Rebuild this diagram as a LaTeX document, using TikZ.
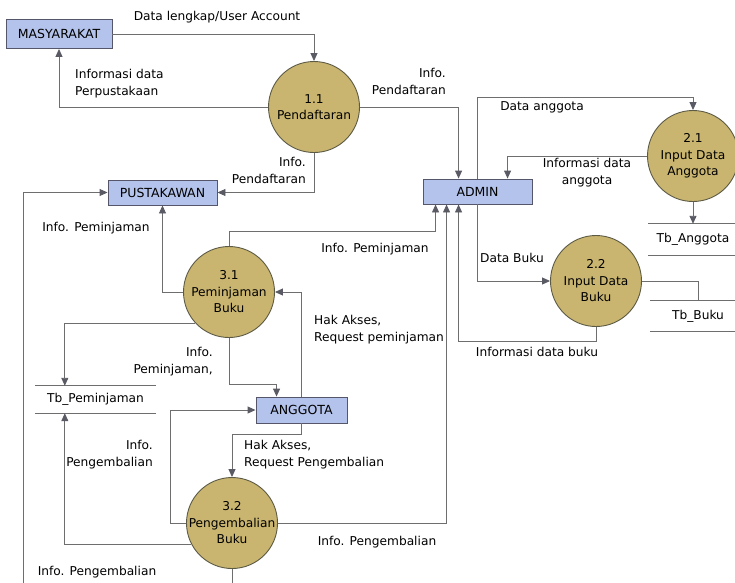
\documentclass[tikz,border=0pt]{standalone}
\usepackage{fontspec}
\setmainfont{DejaVu Sans}
\usetikzlibrary{arrows.meta,calc}
\definecolor{entfill}{HTML}{B4C3EB}
\definecolor{entdraw}{HTML}{55566A}
\definecolor{procfill}{HTML}{C9B56F}
\definecolor{procdraw}{HTML}{5C5A45}
\definecolor{linec}{HTML}{6E6E6E}
\definecolor{tipc}{HTML}{5A5A64}
\tikzset{
  ent/.style={draw=entdraw,fill=entfill,line width=0.9pt,inner sep=0pt,font=\fontsize{12.5}{17}\selectfont},
  proc/.style={circle,draw=procdraw,fill=procfill,line width=0.9pt,minimum size=91pt,inner sep=-14pt,align=center,font=\fontsize{12.2}{16.5}\selectfont},
  store/.style={inner sep=0pt,font=\fontsize{12.2}{17}\selectfont},
  lbl/.style={inner sep=0pt,font=\fontsize{12.2}{17}\selectfont},
  conn/.style={draw=linec,line width=0.9pt},
  arr/.style={conn,-{Triangle[width=7pt,length=8pt,fill=tipc,color=tipc]}},
}
\begin{document}
\begin{tikzpicture}[x=1pt,y=-1pt]
\useasboundingbox (0,0) rectangle (735,582);
% entities
\node[ent,minimum width=106pt,minimum height=29pt] (mas) at (59,34) {MASYARAKAT};
\node[ent,minimum width=109pt,minimum height=25pt] (pus) at (162.5,192.5) {PUSTAKAWAN};
\node[ent,minimum width=109pt,minimum height=25pt] (adm) at (477.5,191.5) {ADMIN};
\node[ent,minimum width=91pt,minimum height=26pt] (ang) at (301.5,410) {ANGGOTA};
% processes
\node[proc] (p11) at (314,107) {1.1\\Pendaftaran};
\node[proc] (p21) at (693,156) {2.1\\Input Data\\Anggota};
\node[proc] (p22) at (596,281) {2.2\\Input Data\\Buku};
\node[proc] (p31) at (229,292) {3.1\\Peminjaman\\Buku};
\node[proc] (p32) at (232,523) {3.2\\Pengembalian\\Buku};
% data stores
\node[store,minimum width=90pt,minimum height=31pt] (tba) at (693,239.5) {Tb\_Anggota};
\node[store,minimum width=96pt,minimum height=30pt] (tbb) at (698,316) {Tb\_Buku};
\node[store,minimum width=121pt,minimum height=27pt] (tbp) at (95.5,399.5) {Tb\_Peminjaman};
\foreach \s in {tba,tbb,tbp}{
  \draw[conn] (\s.north west) -- (\s.north east);
  \draw[conn] (\s.south west) -- (\s.south east);
}
% connectors
\draw[arr] (mas.east) -| (p11.north);
\draw[arr] (p11.west) -| (mas.south);
\draw[arr] (p11.south) |- (pus.east);
\draw[arr] (p11.east) -| ($(adm.north west)+(36,0)$);
\draw[arr] (adm.north) -- ++(0,-81) -| (p21.north);
\draw[arr] (p21.west) -| ($(adm.north west)+(85,0)$);
\draw[arr] (p21.south) -- (tba.north);
\draw[arr] (adm.south) |- (p22.west);
\draw[conn] (p22.east) -| (tbb.north);
\draw[arr] (p22.south) -- ++(0,14) -| ($(adm.south west)+(36,0)$);
\draw[arr] (p31.north) -- ++(0,-15) -| ($(adm.south west)+(13,0)$);
\draw[arr] (p32.east) -| ($(adm.south west)+(24,0)$);
\draw[arr] (p31.west) -| (pus.south);
\draw[arr] (p31.223) -| ($(tbp.north west)+(30,0)$);
\draw[arr] (p31.south) -- ++(0,46) -| ($(ang.north west)+(21,0)$);
\draw[arr] (ang.north) |- (p31.east);
\draw[arr] (ang.south) -- ++(0,11) -| (p32.north);
\draw[arr] (p32.west) -- ++(-16,0) |- (ang.west);
\draw[arr] (p32.208) -| ($(tbp.south west)+(30,0)$);
\coordinate (below) at (23,600);
\draw[arr] (p32.south) |- (below) |- (pus.west);
% labels
\node[lbl] (l1) at (217,17) {Data lengkap/User Account};
\node[lbl,anchor=west,align=left] (l2) at (75,84) {Informasi data\\Perpustakaan};
\node[lbl,anchor=east,align=right] (l3) at (306,170) {Info.\\Pendaftaran};
\node[lbl,anchor=east,align=right] (l4) at (446,81) {Info.\\Pendaftaran};
\node[lbl] (l5) at (542,107) {Data anggota};
\node[lbl,align=center] (l6) at (587,173) {Informasi data\\anggota};
\node[lbl] (l7) at (512,258) {Data Buku};
\node[lbl] (l8) at (537,352) {Informasi data buku};
\node[lbl] (l9) at (96,228) {Info. Peminjaman};
\node[lbl] (l10) at (375,249) {Info. Peminjaman};
\node[lbl,anchor=west,align=left] (l11) at (314,330) {Hak Akses,\\Request peminjaman};
\node[lbl,anchor=east,align=right] (l12) at (213,362) {Info.\\Peminjaman,};
\node[lbl,anchor=east,align=right] (l13) at (153,455) {Info.\\Pengembalian};
\node[lbl,anchor=west,align=left] (l14) at (244,455) {Hak Akses,\\Request Pengembalian};
\node[lbl] (l15) at (377,542) {Info. Pengembalian};
\node[lbl] (l16) at (97,572) {Info. Pengembalian};
\end{tikzpicture}
\end{document}
